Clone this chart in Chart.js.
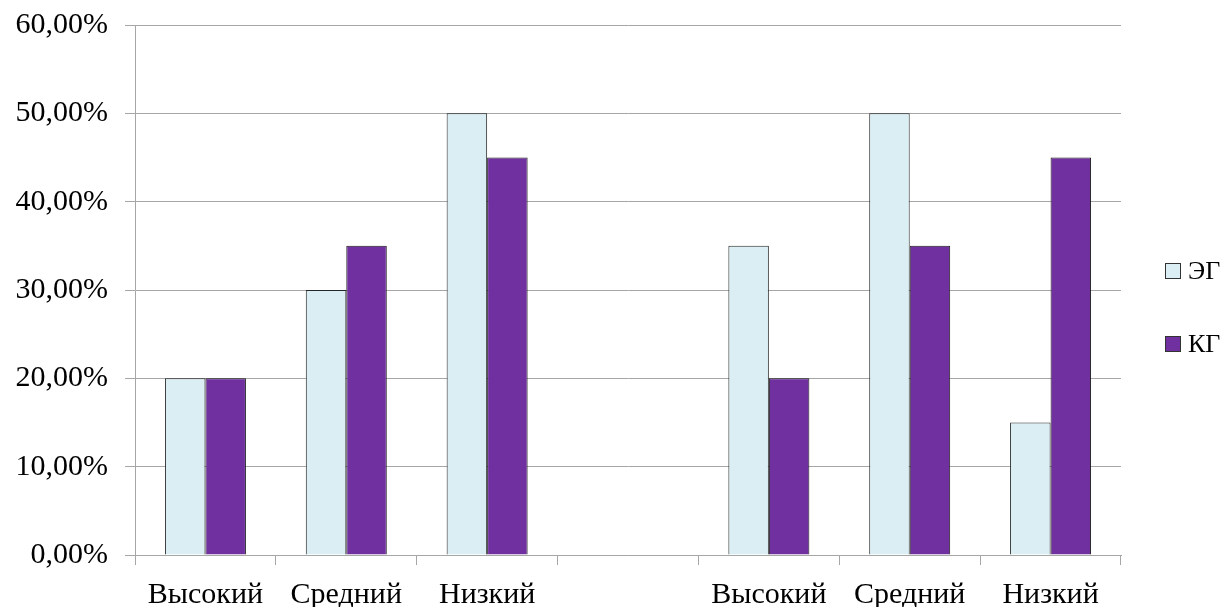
<!DOCTYPE html>
<html>
<head>
<meta charset="utf-8">
<script src="https://cdn.jsdelivr.net/npm/chart.js@4"></script>
<style>
  html, body { margin: 0; padding: 0; background: #ffffff; }
  #wrap { width: 1229px; height: 607px; }
</style>
</head>
<body>
<div id="wrap"><canvas id="chart" width="1229" height="607"></canvas></div>
<script>
// Уровни (левая группа — до эксперимента, правая — после; между ними пустая позиция)
const categories = ['Высокий', 'Средний', 'Низкий', '', 'Высокий', 'Средний', 'Низкий'];
const seriesNames = ['ЭГ', 'КГ'];
const egValues = [20, 30, 50, null, 35, 50, 15];
const kgValues = [20, 35, 45, null, 20, 35, 45];
const yTicks = [0, 10, 20, 30, 40, 50, 60];

const FONT = "'Liberation Serif', 'Times New Roman', serif";
const GRID = '#a6a6a6';

function fmtPercent(v) {
  return v.toFixed(2).replace('.', ',') + '%';
}

// Legend drawn on the right side, two stacked entries
const sideLegend = {
  id: 'sideLegend',
  afterDraw(chart) {
    const ctx = chart.ctx;
    const x = 1165, ys = [271, 344], box = 16;
    ctx.save();
    ctx.font = '26px ' + FONT;
    ctx.textBaseline = 'middle';
    ctx.textAlign = 'left';
    chart.data.datasets.forEach((ds, i) => {
      const y = ys[i];
      ctx.fillStyle = ds.backgroundColor;
      ctx.fillRect(x, y - box / 2, box, box);
      ctx.strokeStyle = '#333333';
      ctx.lineWidth = 1;
      ctx.strokeRect(x + 0.5, y - box / 2 + 0.5, box - 1, box - 1);
      ctx.fillStyle = '#000000';
      ctx.fillText(ds.label, x + box + 7, y + 1);
    });
    ctx.restore();
  }
};

new Chart(document.getElementById('chart'), {
  type: 'bar',
  data: {
    labels: categories,
    datasets: [
      {
        label: seriesNames[0],
        data: egValues,
        backgroundColor: '#daeef3',
        borderColor: '#262626',
        borderWidth: 1
      },
      {
        label: seriesNames[1],
        data: kgValues,
        backgroundColor: '#7030a0',
        borderColor: '#1a1a1a',
        borderWidth: 1
      }
    ]
  },
  options: {
    responsive: false,
    animation: false,
    layout: { padding: { top: 0, right: 108, left: 0, bottom: 0 } },
    plugins: {
      legend: { display: false },
      tooltip: { enabled: false }
    },
    datasets: {
      bar: { barPercentage: 1, categoryPercentage: 0.575 }
    },
    scales: {
      x: {
        grid: {
          offset: true,
          drawOnChartArea: false,
          drawTicks: true,
          tickLength: 10,
          color: GRID
        },
        border: { color: GRID, width: 1 },
        ticks: {
          color: '#000000',
          font: { family: FONT, size: 30 },
          padding: 12,
          maxRotation: 0,
          autoSkip: false
        },
        afterFit(scale) { scale.height = 52; }
      },
      y: {
        min: 0,
        max: 60,
        afterBuildTicks(scale) {
          scale.ticks = yTicks.map(v => ({ value: v }));
        },
        grid: {
          color: GRID,
          drawTicks: true,
          tickLength: 10
        },
        border: { color: GRID, width: 1 },
        ticks: {
          color: '#000000',
          font: { family: FONT, size: 30 },
          padding: 17,
          callback: (v) => fmtPercent(v)
        },
        afterFit(scale) {
          scale.width = 135;
          scale.paddingTop = 25;
          scale.paddingBottom = 0;
        }
      }
    }
  },
  plugins: [sideLegend]
});
</script>
</body>
</html>
